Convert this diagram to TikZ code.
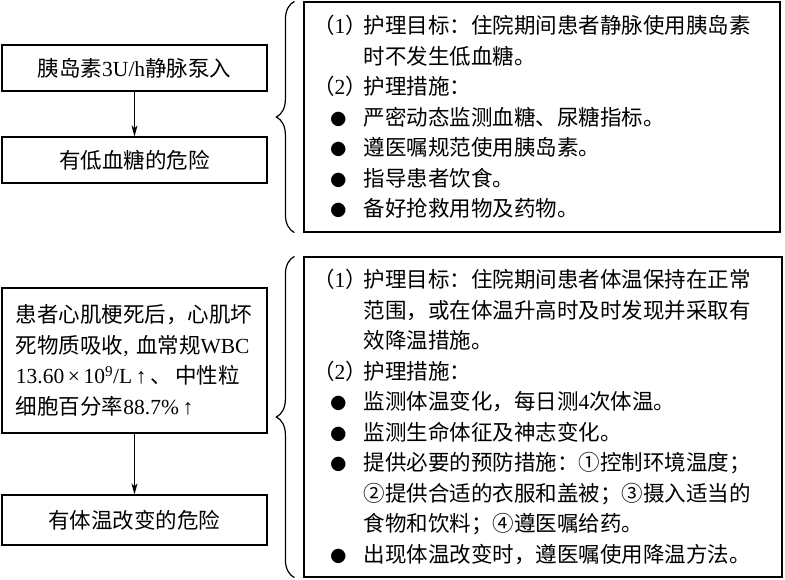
\documentclass[tikz,border=0pt]{standalone}
\usepackage{fontspec}
\setmainfont{Noto Sans CJK SC}
\newfontfamily\latin{Liberation Serif}
\usetikzlibrary{arrows.meta, decorations.pathreplacing}
\newlength{\labwd}
\setlength{\labwd}{50.5pt}
\newcommand{\lab}[1]{\makebox[\labwd][l]{#1}}
\newcommand{\blt}{\makebox[\labwd]{\fontsize{16}{16}\selectfont ●}}
\newcommand{\cont}{\hspace*{\labwd}}

\begin{document}
\begin{tikzpicture}[x=1pt, y=-1pt, font=\fontsize{21.5}{30.5}\selectfont,
    stepbox/.style={draw, line width=1.2pt, minimum width=265pt, inner sep=0pt},
    notebox/.style={draw, line width=1.2pt, inner xsep=9pt, inner ysep=0pt, align=left},
    arr/.style={-{Stealth[length=11pt, width=6pt, inset=3pt]}, line width=1pt},
    curly/.style={decorate, decoration={brace, amplitude=18pt}, line width=1.2pt}]
    \useasboundingbox (0,0) rectangle (785,579);
    \node[stepbox, minimum height=46pt] (pump) at (134.5,68) {胰岛素{\latin 3U/h}静脉泵入};
    \node[stepbox, minimum height=46pt] (hypo) at (134.5,160) {有低血糖的危险};
    \node[stepbox, minimum height=145pt, text width=237pt, align=left] (cause) at (134.5,360.5) {\mbox{患者心肌梗死后，心肌坏}\\
      \mbox{死物质吸收{\latin , }血常规{\latin WBC}}\\
      \mbox{{\latin 13.60\,×\,10\textsuperscript{9}/L\,↑}\,、\,中性粒}\\
      \mbox{细胞百分率{\latin 88.7\%\,↑}}};
    \node[stepbox, minimum height=50pt] (temp) at (134.5,520) {有体温改变的危险};
    \foreach \a/\b in {pump/hypo, cause/temp} {
      \draw[arr] (\a) -- (\b);
    }
    \node[notebox, minimum width=476pt, minimum height=230pt, text width=458pt] (goal1) at (542,117) {\lab{（{\latin 1}）}护理目标：住院期间患者静脉使用胰岛素\\
      \cont 时不发生低血糖。\\
      \lab{（{\latin 2}）}护理措施：\\
      \blt 严密动态监测血糖、尿糖指标。\\
      \blt 遵医嘱规范使用胰岛素。\\
      \blt 指导患者饮食。\\
      \blt 备好抢救用物及药物。};
    \node[notebox, minimum width=478pt, minimum height=320pt, text width=460pt] (goal2) at (543,417) {\lab{（{\latin 1}）}护理目标：住院期间患者体温保持在正常\\
      \cont 范围，或在体温升高时及时发现并采取有\\
      \cont 效降温措施。\\
      \lab{（{\latin 2}）}护理措施：\\
      \blt 监测体温变化，每日测{\latin 4}次体温。\\
      \blt 监测生命体征及神志变化。\\
      \blt 提供必要的预防措施：①控制环境温度；\\
      \cont ②提供合适的衣服和盖被；③摄入适当的\\
      \cont 食物和饮料；④遵医嘱给药。\\
      \blt 出现体温改变时，遵医嘱使用降温方法。};
    \draw[curly] ([xshift=-9pt]goal1.south west) -- ([xshift=-9pt]goal1.north west);
    \draw[curly] ([xshift=-9pt]goal2.south west) -- ([xshift=-9pt]goal2.north west);
  \end{tikzpicture}
\end{document}
